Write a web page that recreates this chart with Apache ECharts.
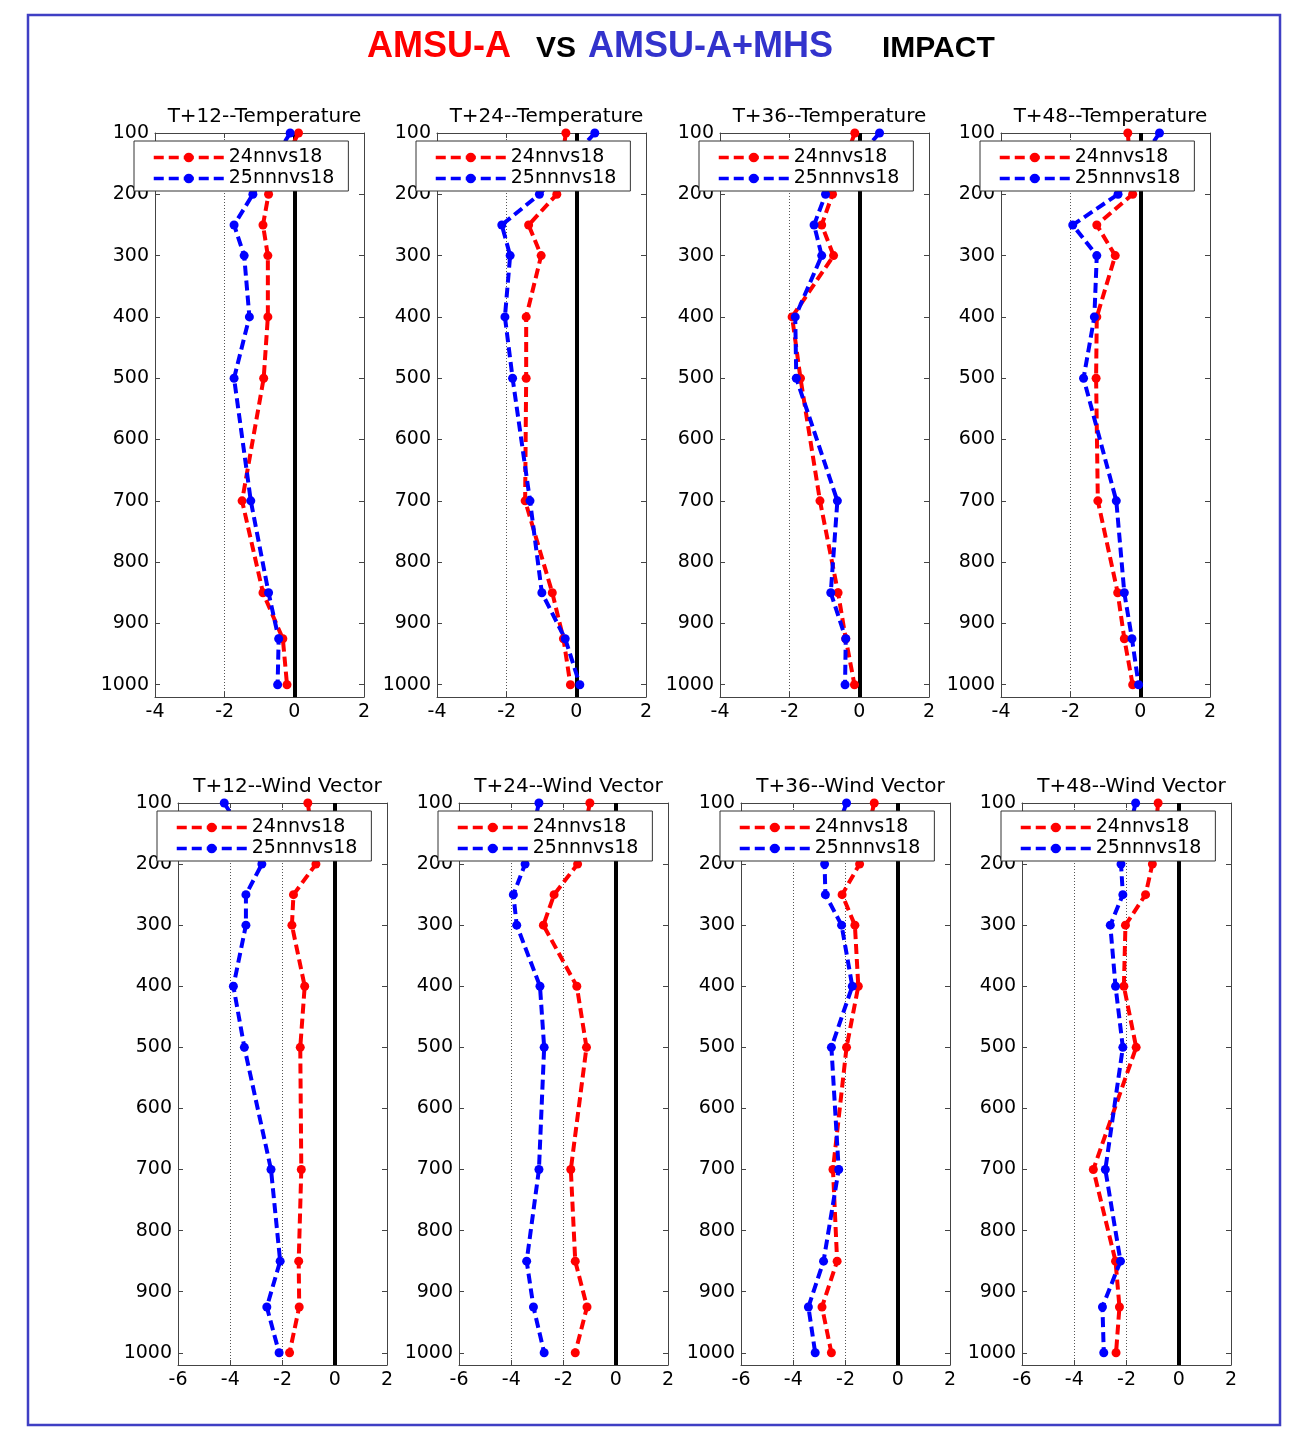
<!DOCTYPE html>
<html>
<head>
<meta charset="utf-8">
<script src="https://cdn.jsdelivr.net/npm/echarts@6/dist/echarts.min.js"></script>
<style>
  html, body { margin: 0; padding: 0; background: #fff; }
  #chart { width: 1309px; height: 1448px; }
</style>
</head>
<body>
<div id="chart"></div>
<script>
// pressure levels (hPa)
var levels = [100, 200, 250, 300, 400, 500, 700, 850, 925, 1000];

// temperature impact
var t12Red  = [0.12, -0.74, -0.90, -0.76, -0.76, -0.88, -1.50, -0.90, -0.33, -0.21];
var t12Blue = [-0.12, -1.19, -1.73, -1.44, -1.29, -1.73, -1.25, -0.74, -0.45, -0.48];
var t24Red  = [-0.30, -0.56, -1.37, -1.01, -1.44, -1.44, -1.47, -0.69, -0.37, -0.17];
var t24Blue = [0.53, -1.06, -2.14, -1.90, -2.05, -1.83, -1.33, -0.99, -0.32, 0.10];
var t36Red  = [-0.13, -0.77, -1.08, -0.74, -1.93, -1.69, -1.13, -0.61, -0.39, -0.14];
var t36Blue = [0.58, -0.97, -1.30, -1.08, -1.84, -1.81, -0.63, -0.82, -0.39, -0.41];
var t48Red  = [-0.36, -0.22, -1.25, -0.72, -1.25, -1.27, -1.22, -0.65, -0.46, -0.22];
var t48Blue = [0.55, -0.64, -1.94, -1.25, -1.32, -1.63, -0.69, -0.46, -0.24, -0.05];

// wind vector impact
var w12Red  = [-1.03, -0.72, -1.58, -1.64, -1.15, -1.32, -1.28, -1.38, -1.36, -1.73];
var w12Blue = [-4.23, -2.79, -3.40, -3.40, -3.88, -3.46, -2.44, -2.09, -2.60, -2.13];
var w24Red  = [-0.99, -1.46, -2.36, -2.77, -1.49, -1.12, -1.72, -1.55, -1.10, -1.55];
var w24Blue = [-2.94, -3.47, -3.92, -3.79, -2.90, -2.74, -2.94, -3.41, -3.15, -2.74];
var w36Red  = [-0.90, -1.46, -2.13, -1.64, -1.51, -1.96, -2.48, -2.32, -2.90, -2.54];
var w36Blue = [-1.96, -2.80, -2.77, -2.15, -1.74, -2.54, -2.26, -2.84, -3.42, -3.16];
var w48Red  = [-0.79, -1.01, -1.27, -2.04, -2.10, -1.63, -3.27, -2.42, -2.27, -2.40];
var w48Blue = [-1.65, -2.21, -2.14, -2.62, -2.42, -2.14, -2.81, -2.23, -2.92, -2.87];

var redName = '24nnvs18';
var blueName = '25nnnvs18';

var panels = [
  { title: 'T+12--Temperature', red: t12Red, blue: t12Blue },
  { title: 'T+24--Temperature', red: t24Red, blue: t24Blue },
  { title: 'T+36--Temperature', red: t36Red, blue: t36Blue },
  { title: 'T+48--Temperature', red: t48Red, blue: t48Blue },
  { title: 'T+12--Wind Vector', red: w12Red, blue: w12Blue },
  { title: 'T+24--Wind Vector', red: w24Red, blue: w24Blue },
  { title: 'T+36--Wind Vector', red: w36Red, blue: w36Blue },
  { title: 'T+48--Wind Vector', red: w48Red, blue: w48Blue }
];

var font = 'DejaVu Sans';
var tempLeft = [155, 437, 720, 1001];
var windLeft = [178, 459, 741, 1022];
var boxColor = '#444';

var grids = [], xAxes = [], yAxes = [], series = [], titles = [], legends = [];

panels.forEach(function (p, i) {
    var wind = i >= 4;
    var left = wind ? windLeft[i - 4] : tempLeft[i];
    var top = wind ? 803 : 133;
    var height = wind ? 562 : 564;
    var width = 209;
    var xmin = wind ? -6 : -4;

    grids.push({ left: left, top: top, width: width, height: height });

    // bottom x axis with labels + dotted grid
    xAxes.push({
        gridIndex: i, type: 'value', position: 'bottom', min: xmin, max: 2, interval: 2,
        axisLine: { show: true, onZero: false, lineStyle: { color: boxColor, width: 1 } },
        axisTick: { show: true, inside: true, length: 5, lineStyle: { color: boxColor } },
        axisLabel: { color: '#000', fontSize: 19, fontFamily: font, margin: 6 },
        splitLine: { show: true, lineStyle: { color: '#555', type: [1, 2], width: 1 } }
    });
    // top x axis, ticks only
    xAxes.push({
        gridIndex: i, type: 'value', position: 'top', min: xmin, max: 2, interval: 2,
        axisLine: { show: true, onZero: false, lineStyle: { color: boxColor, width: 1 } },
        axisTick: { show: true, inside: true, length: 5, lineStyle: { color: boxColor } },
        axisLabel: { show: false },
        splitLine: { show: false }
    });
    // left y axis (pressure, inverted)
    yAxes.push({
        gridIndex: i, type: 'value', position: 'left', inverse: true, min: 100, max: 1020, interval: 100,
        axisLine: { show: true, onZero: false, lineStyle: { color: boxColor, width: 1 } },
        axisTick: { show: true, inside: true, length: 5, lineStyle: { color: boxColor } },
        axisLabel: {
            color: '#000', fontSize: 19, fontFamily: font, margin: 6,
            formatter: function (v) { return (v % 100 === 0 && v <= 1000) ? v : ''; }
        },
        splitLine: { show: false }
    });
    // right y axis, ticks only
    yAxes.push({
        gridIndex: i, type: 'value', position: 'right', inverse: true, min: 100, max: 1020, interval: 100,
        axisLine: { show: true, onZero: false, lineStyle: { color: boxColor, width: 1 } },
        axisTick: { show: true, inside: true, length: 5, lineStyle: { color: boxColor } },
        axisLabel: { show: false },
        splitLine: { show: false }
    });

    titles.push({
        text: p.title, left: left + width / 2, top: top - 31, textAlign: 'center',
        textStyle: { fontSize: 20, fontWeight: 'normal', color: '#000', fontFamily: font }
    });

    legends.push({
        data: [redName, blueName], orient: 'vertical', left: left - 21, top: top + 8,
        backgroundColor: '#fff', borderColor: '#333', borderWidth: 1,
        padding: [7, 14, 3, 18], itemGap: 2, itemWidth: 70, itemHeight: 12,
        textStyle: { fontSize: 19, fontFamily: font, color: '#000' },
        lineStyle: { width: 3.5, type: [10, 5] },
        selectedMode: false
    });

    var lineOpts = function (name, color, vals) {
        return {
            name: name, type: 'line', xAxisIndex: 2 * i, yAxisIndex: 2 * i,
            data: levels.map(function (lv, k) { return [vals[k], lv]; }),
            symbol: 'circle', symbolSize: 9,
            lineStyle: { color: color, width: 4, type: [10, 5] },
            itemStyle: { color: color },
            z: 3
        };
    };
    var red = lineOpts(redName, '#ff0000', p.red);
    red.markLine = {
        silent: true, symbol: 'none', label: { show: false },
        lineStyle: { color: '#000', width: 4, type: 'solid' },
        data: [{ xAxis: 0 }],
        z: 2
    };
    series.push(red);
    series.push(lineOpts(blueName, '#0000ff', p.blue));
});

var chart = echarts.init(document.getElementById('chart'));
chart.setOption({
    animation: false,
    backgroundColor: '#fff',
    title: titles,
    legend: legends,
    grid: grids,
    xAxis: xAxes,
    yAxis: yAxes,
    series: series,
    graphic: [
        { type: 'rect', shape: { x: 28, y: 15, width: 1252, height: 1410 },
          style: { fill: 'none', stroke: '#3f3fc4', lineWidth: 2.5 }, silent: true },
        { type: 'text', x: 367, y: 47, style: { text: 'AMSU-A', fill: '#ff0000', font: 'bold 36px "Liberation Sans", Arial, sans-serif', verticalAlign: 'middle' } },
        { type: 'text', x: 536, y: 49, style: { text: 'VS', fill: '#000', font: 'bold 30px "Liberation Sans", Arial, sans-serif', verticalAlign: 'middle' } },
        { type: 'text', x: 588, y: 47, style: { text: 'AMSU-A+MHS', fill: '#3333cc', font: 'bold 36px "Liberation Sans", Arial, sans-serif', verticalAlign: 'middle' } },
        { type: 'text', x: 882, y: 49, style: { text: 'IMPACT', fill: '#000', font: 'bold 30px "Liberation Sans", Arial, sans-serif', verticalAlign: 'middle' } }
    ]
});
</script>
</body>
</html>
